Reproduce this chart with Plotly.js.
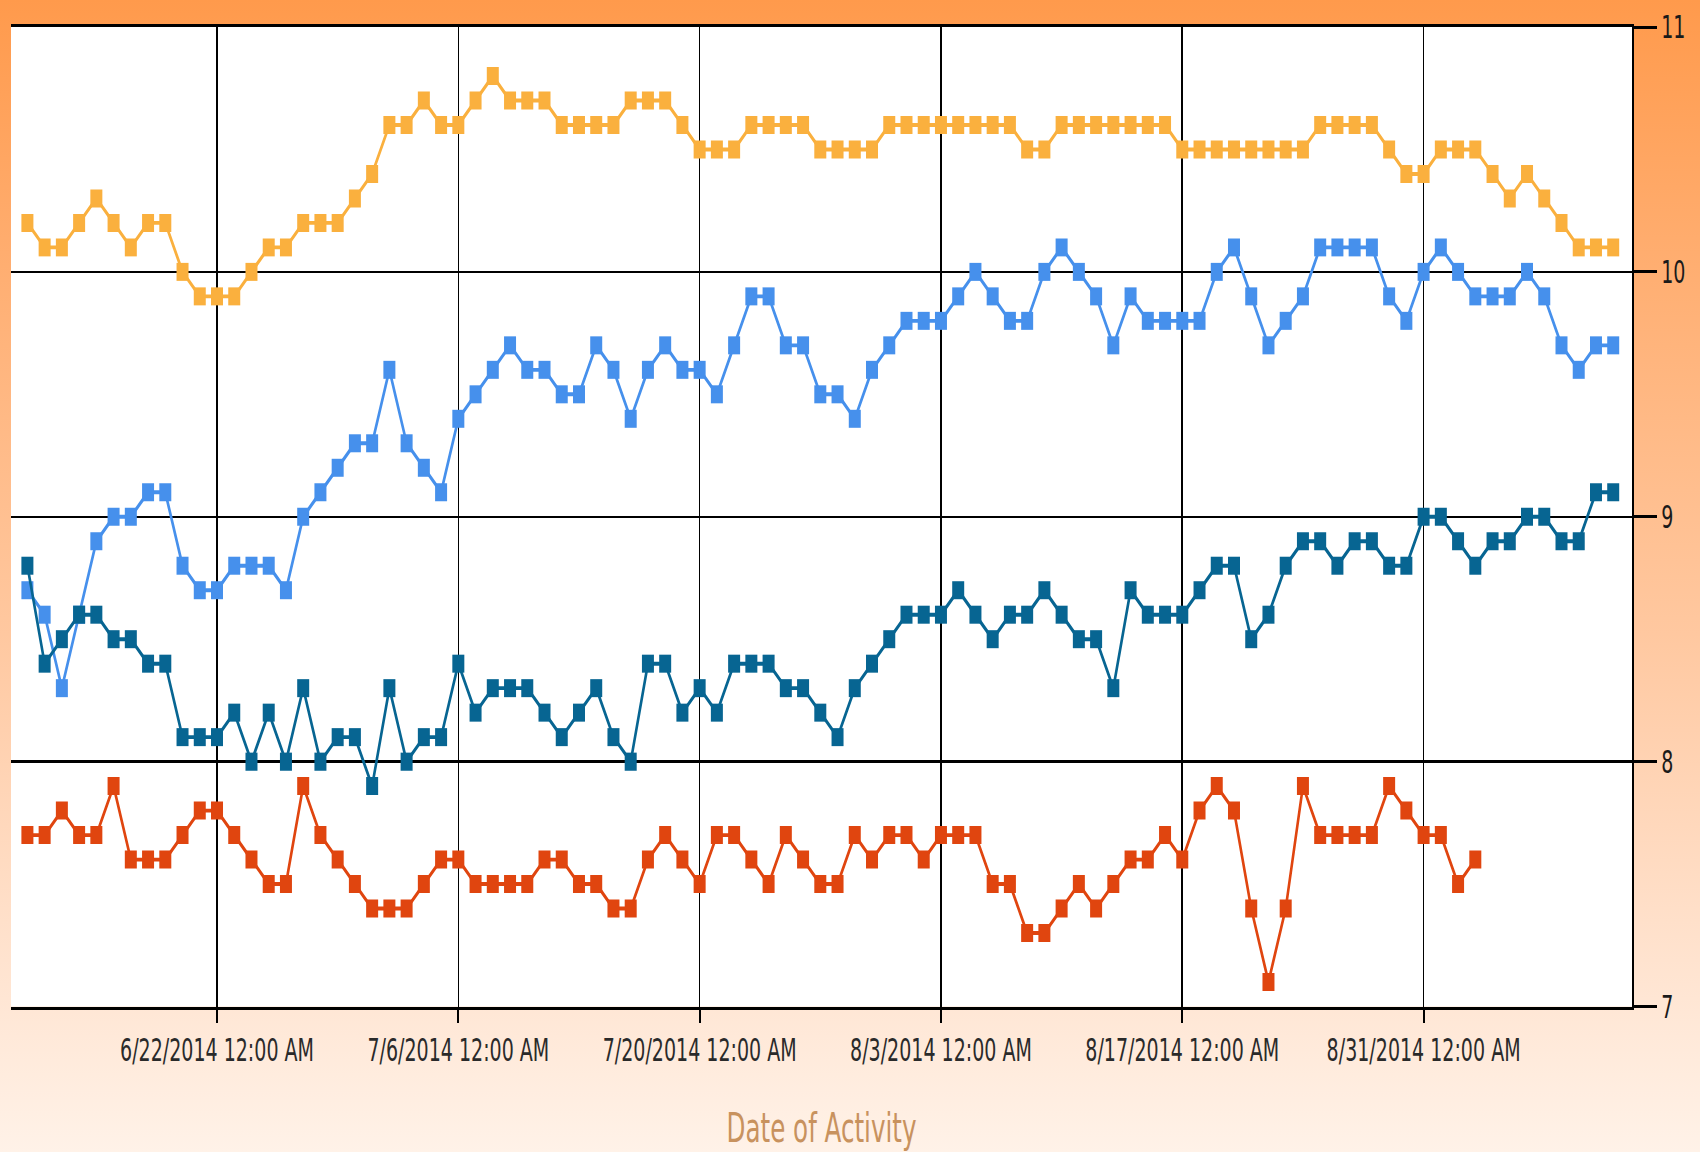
<!DOCTYPE html>
<html>
<head>
<meta charset="utf-8">
<script src="https://cdn.plot.ly/plotly-3.0.1.min.js"></script>
<style>
  html, body { margin: 0; padding: 0; width: 1700px; height: 1152px; overflow: hidden; }
  body { background: linear-gradient(to bottom, #FF9A4C 0%, #FFB47C 30%, #FFC8A0 55%, #FFE0CA 80%, #FFF2E8 100%); }
  #chart { width: 1700px; height: 768px; transform: scaleY(1.5); transform-origin: 0 0; }
</style>
</head>
<body>
<div id="chart"></div>
<script>
// ---- data ----
const dates = [
  '2014-06-11','2014-06-12','2014-06-13','2014-06-14','2014-06-15','2014-06-16','2014-06-17','2014-06-18','2014-06-19','2014-06-20',
  '2014-06-21','2014-06-22','2014-06-23','2014-06-24','2014-06-25','2014-06-26','2014-06-27','2014-06-28','2014-06-29','2014-06-30',
  '2014-07-01','2014-07-02','2014-07-03','2014-07-04','2014-07-05','2014-07-06','2014-07-07','2014-07-08','2014-07-09','2014-07-10',
  '2014-07-11','2014-07-12','2014-07-13','2014-07-14','2014-07-15','2014-07-16','2014-07-17','2014-07-18','2014-07-19','2014-07-20',
  '2014-07-21','2014-07-22','2014-07-23','2014-07-24','2014-07-25','2014-07-26','2014-07-27','2014-07-28','2014-07-29','2014-07-30',
  '2014-07-31','2014-08-01','2014-08-02','2014-08-03','2014-08-04','2014-08-05','2014-08-06','2014-08-07','2014-08-08','2014-08-09',
  '2014-08-10','2014-08-11','2014-08-12','2014-08-13','2014-08-14','2014-08-15','2014-08-16','2014-08-17','2014-08-18','2014-08-19',
  '2014-08-20','2014-08-21','2014-08-22','2014-08-23','2014-08-24','2014-08-25','2014-08-26','2014-08-27','2014-08-28','2014-08-29',
  '2014-08-30','2014-08-31','2014-09-01','2014-09-02','2014-09-03','2014-09-04','2014-09-05','2014-09-06','2014-09-07','2014-09-08',
  '2014-09-09','2014-09-10','2014-09-11'
];

const yellowValues = [
  10.2,10.1,10.1,10.2,10.3,10.2,10.1,10.2,10.2,10.0,
  9.9,9.9,9.9,10.0,10.1,10.1,10.2,10.2,10.2,10.3,
  10.4,10.6,10.6,10.7,10.6,10.6,10.7,10.8,10.7,10.7,
  10.7,10.6,10.6,10.6,10.6,10.7,10.7,10.7,10.6,10.5,
  10.5,10.5,10.6,10.6,10.6,10.6,10.5,10.5,10.5,10.5,
  10.6,10.6,10.6,10.6,10.6,10.6,10.6,10.6,10.5,10.5,
  10.6,10.6,10.6,10.6,10.6,10.6,10.6,10.5,10.5,10.5,
  10.5,10.5,10.5,10.5,10.5,10.6,10.6,10.6,10.6,10.5,
  10.4,10.4,10.5,10.5,10.5,10.4,10.3,10.4,10.3,10.2,
  10.1,10.1,10.1
];

const lightBlueValues = [
  8.7,8.6,8.3,8.6,8.9,9.0,9.0,9.1,9.1,8.8,
  8.7,8.7,8.8,8.8,8.8,8.7,9.0,9.1,9.2,9.3,
  9.3,9.6,9.3,9.2,9.1,9.4,9.5,9.6,9.7,9.6,
  9.6,9.5,9.5,9.7,9.6,9.4,9.6,9.7,9.6,9.6,
  9.5,9.7,9.9,9.9,9.7,9.7,9.5,9.5,9.4,9.6,
  9.7,9.8,9.8,9.8,9.9,10.0,9.9,9.8,9.8,10.0,
  10.1,10.0,9.9,9.7,9.9,9.8,9.8,9.8,9.8,10.0,
  10.1,9.9,9.7,9.8,9.9,10.1,10.1,10.1,10.1,9.9,
  9.8,10.0,10.1,10.0,9.9,9.9,9.9,10.0,9.9,9.7,
  9.6,9.7,9.7
];

const darkBlueValues = [
  8.8,8.4,8.5,8.6,8.6,8.5,8.5,8.4,8.4,8.1,
  8.1,8.1,8.2,8.0,8.2,8.0,8.3,8.0,8.1,8.1,
  7.9,8.3,8.0,8.1,8.1,8.4,8.2,8.3,8.3,8.3,
  8.2,8.1,8.2,8.3,8.1,8.0,8.4,8.4,8.2,8.3,
  8.2,8.4,8.4,8.4,8.3,8.3,8.2,8.1,8.3,8.4,
  8.5,8.6,8.6,8.6,8.7,8.6,8.5,8.6,8.6,8.7,
  8.6,8.5,8.5,8.3,8.7,8.6,8.6,8.6,8.7,8.8,
  8.8,8.5,8.6,8.8,8.9,8.9,8.8,8.9,8.9,8.8,
  8.8,9.0,9.0,8.9,8.8,8.9,8.9,9.0,9.0,8.9,
  8.9,9.1,9.1
];

const redValues = [
  7.7,7.7,7.8,7.7,7.7,7.9,7.6,7.6,7.6,7.7,
  7.8,7.8,7.7,7.6,7.5,7.5,7.9,7.7,7.6,7.5,
  7.4,7.4,7.4,7.5,7.6,7.6,7.5,7.5,7.5,7.5,
  7.6,7.6,7.5,7.5,7.4,7.4,7.6,7.7,7.6,7.5,
  7.7,7.7,7.6,7.5,7.7,7.6,7.5,7.5,7.7,7.6,
  7.7,7.7,7.6,7.7,7.7,7.7,7.5,7.5,7.3,7.3,
  7.4,7.5,7.4,7.5,7.6,7.6,7.7,7.6,7.8,7.9,
  7.8,7.4,7.1,7.4,7.9,7.7,7.7,7.7,7.7,7.9,
  7.8,7.7,7.7,7.5,7.6
];

const tickDates  = ['2014-06-22','2014-07-06','2014-07-20','2014-08-03','2014-08-17','2014-08-31'];
const tickLabels = ['6/22/2014 12:00 AM','7/6/2014 12:00 AM','7/20/2014 12:00 AM','8/3/2014 12:00 AM','8/17/2014 12:00 AM','8/31/2014 12:00 AM'];
const yTickValues = [7, 8, 9, 10, 11];
const yTickLabels = ['7', '8', '9', '10', '11'];
const xTitle = 'Date of Activity';

// ---- font choice (prefer a narrow face) ----
const ctx = document.createElement('canvas').getContext('2d');
function widthOf(txt, fam) { ctx.font = '100px ' + fam; return ctx.measureText(txt).width; }
function pickFont(cands) {
  for (const f of cands) {
    const a = widthOf('6/22/2014 12:00 AM Date', '"' + f + '", monospace');
    const b = widthOf('6/22/2014 12:00 AM Date', 'monospace');
    if (Math.abs(a - b) > 1) return f;
  }
  return 'Liberation Sans';
}
const fam = pickFont(['Liberation Sans Narrow', 'DejaVu Sans Condensed', 'Roboto Condensed', 'Liberation Sans']);
const famCss = '"' + fam + '", "Liberation Sans", Arial, sans-serif';
const tickSize = 100 * 194 / widthOf(tickLabels[0], '"' + fam + '"');
const titleSize = 100 * 190 / widthOf(xTitle, '"' + fam + '"');

function series(name, y, color) {
  return {
    type: 'scatter', mode: 'lines+markers', name: name,
    x: dates.slice(0, y.length), y: y,
    line: { color: color, width: 2.6 },
    marker: { symbol: 'square', size: 12, color: color }
  };
}

const traces = [
  series('Series 1', yellowValues, '#FAB03E'),
  series('Series 2', lightBlueValues, '#4690EC'),
  series('Series 3', darkBlueValues, '#076592'),
  series('Series 4', redValues, '#E0450F')
];

const layout = {
  width: 1700, height: 768,
  margin: { l: 11, r: 68, t: 18, b: 97 },
  paper_bgcolor: 'rgba(0,0,0,0)',
  plot_bgcolor: '#FFFFFF',
  showlegend: false,
  font: { family: famCss, color: '#222222', size: tickSize },
  xaxis: {
    type: 'date',
    range: ['2014-06-10 01:10', '2014-09-12 02:10'],
    tickmode: 'array', tickvals: tickDates, ticktext: tickLabels,
    ticks: 'outside', ticklen: 9, tickwidth: 2, tickcolor: '#000000',
    showgrid: true, gridcolor: '#000000', gridwidth: 1.6,
    showline: true, linecolor: '#000000', linewidth: 2, mirror: true,
    zeroline: false, automargin: false,
    tickfont: { family: famCss, size: tickSize, color: '#2a2a2a' },
    ticklabelstandoff: 0,
    title: { text: xTitle, font: { family: famCss, size: titleSize, color: '#C8925E' }, standoff: 31 }
  },
  yaxis: {
    side: 'right',
    range: [7, 11],
    tickmode: 'array', tickvals: yTickValues, ticktext: yTickLabels,
    ticks: 'outside', ticklen: 23, tickwidth: 2, tickcolor: '#000000',
    showgrid: true, gridcolor: '#000000', gridwidth: 1.6,
    showline: true, linecolor: '#000000', linewidth: 2, mirror: false,
    zeroline: false, automargin: false,
    tickfont: { family: famCss, size: tickSize, color: '#1a1a1a' }
  }
};

Plotly.newPlot('chart', traces, layout, { staticPlot: true, displayModeBar: false });
</script>
</body>
</html>
